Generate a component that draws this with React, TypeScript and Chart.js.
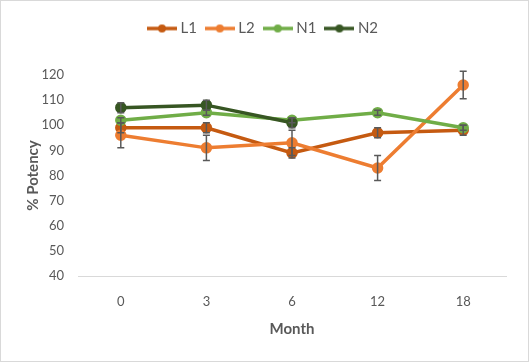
import React, { useEffect, useRef } from 'react';
import { Chart, registerables } from 'chart.js';

Chart.register(...registerables);

const months = ['0', '3', '6', '12', '18'];
const seriesNames = ['L1', 'L2', 'N1', 'N2'];
const seriesColors = ['#C55A11', '#ED7D31', '#70AD47', '#375623'];
const l1Values = [99, 99, 89, 97, 98];
const l2Values = [96, 91, 93, 83, 116];
const n1Values = [102, 105, 102, 105, 99];
const n2Values = [107, 108, 101, null, null];
const l1Errors = [2, 2, 2, 2, 2];
const l2Errors = [5, 5, 5, 5, 5.5];
const n1Errors = [1, 1, 1, 1, 1];
const n2Errors = [2, 2, 2, null, null];
const yMin = 40;
const yMax = 120;
const yStep = 10;
const xTitle = 'Month';
const yTitle = '% Potency';

const TEXT = '#595959';
const FONT = 'Lato, "Open Sans", sans-serif';
const LEGEND_EXTRA = 29;

const errorBarPlugin = {
  id: 'errorBars',
  afterDatasetsDraw(chart: any) {
    const ctx = chart.ctx;
    const yScale = chart.scales.y;
    ctx.save();
    ctx.strokeStyle = '#595959';
    ctx.lineWidth = 1.5;
    chart.data.datasets.forEach((ds: any, di: number) => {
      const errs = ds.errors;
      if (!errs) return;
      const meta = chart.getDatasetMeta(di);
      meta.data.forEach((pt: any, i: number) => {
        const v = ds.data[i];
        const e = errs[i];
        if (v == null || e == null) return;
        const x = pt.x;
        const yt = yScale.getPixelForValue(v + e);
        const yb = yScale.getPixelForValue(v - e);
        ctx.beginPath();
        ctx.moveTo(x, yt);
        ctx.lineTo(x, yb);
        ctx.moveTo(x - 3.5, yt);
        ctx.lineTo(x + 3.5, yt);
        ctx.moveTo(x - 3.5, yb);
        ctx.lineTo(x + 3.5, yb);
        ctx.stroke();
      });
    });
    ctx.restore();
  },
};

const framePlugin = {
  id: 'frame',
  beforeDraw(chart: any) {
    const { ctx, width, height } = chart;
    ctx.save();
    ctx.fillStyle = '#ffffff';
    ctx.fillRect(0, 0, width, height);
    ctx.strokeStyle = '#d9d9d9';
    ctx.lineWidth = 1;
    ctx.strokeRect(0.5, 0.5, width - 1, height - 1);
    ctx.restore();
  },
};

const legendSpacingPlugin = {
  id: 'legendSpacing',
  beforeLayout(chart: any) {
    const leg = chart.legend;
    if (!leg || leg._patched) return;
    const orig = leg.fit;
    leg.fit = function () {
      orig.call(this);
      this.height += LEGEND_EXTRA;
    };
    leg._patched = true;
  },
};

function makeLegendImage(color: string) {
  const c = document.createElement('canvas');
  c.width = 30;
  c.height = 10;
  const g = c.getContext('2d')!;
  g.strokeStyle = color;
  g.lineWidth = 3.5;
  g.beginPath();
  g.moveTo(0, 5);
  g.lineTo(30, 5);
  g.stroke();
  g.fillStyle = color;
  g.beginPath();
  g.arc(15, 5, 4, 0, Math.PI * 2);
  g.fill();
  return c;
}

export default function App() {
  const ref = useRef<HTMLCanvasElement | null>(null);

  useEffect(() => {
    if (!ref.current) return;
    const values = [l1Values, l2Values, n1Values, n2Values];
    const errors = [l1Errors, l2Errors, n1Errors, n2Errors];
    const images = seriesColors.map(makeLegendImage);
    const datasets = seriesNames.map((name, i) => ({
      label: name,
      data: values[i],
      errors: errors[i],
      borderColor: seriesColors[i],
      backgroundColor: seriesColors[i],
      pointBackgroundColor: seriesColors[i],
      pointBorderColor: seriesColors[i],
      borderWidth: 3.5,
      pointRadius: 4,
      pointHoverRadius: 4,
      tension: 0,
      order: seriesNames.length - i,
    }));

    const chart = new Chart(ref.current, {
      type: 'line',
      data: { labels: months, datasets: datasets as any },
      plugins: [framePlugin, legendSpacingPlugin, errorBarPlugin],
      options: {
        responsive: false,
        animation: false,
        layout: { padding: { top: 9, right: 23, bottom: 0, left: 23 } },
        plugins: {
          tooltip: { enabled: false },
          legend: {
            position: 'top',
            labels: {
              color: TEXT,
              font: { family: FONT, size: 15 },
              usePointStyle: true,
              pointStyleWidth: 22,
              padding: 12,
              sort: (a: any, b: any) => a.datasetIndex - b.datasetIndex,
              generateLabels: (ch: any) => {
                const items = Chart.defaults.plugins.legend.labels.generateLabels(ch);
                return items.map((it: any) => ({
                  ...it,
                  pointStyle: images[it.datasetIndex],
                  fontColor: TEXT,
                }));
              },
            },
          },
        },
        scales: {
          x: {
            type: 'category',
            offset: true,
            grid: { display: false, drawTicks: false },
            border: { display: true, color: '#d9d9d9', width: 1 },
            ticks: { color: TEXT, font: { family: FONT, size: 13 }, padding: 18 },
            title: {
              display: true,
              text: xTitle,
              color: TEXT,
              font: { family: FONT, size: 15, weight: 'bold' },
              padding: { top: 0, bottom: 24 },
            },
            afterFit: (s: any) => {
              s.height = 86;
            },
          },
          y: {
            min: yMin,
            max: yMax,
            grid: { display: false, drawTicks: false },
            border: { display: false },
            ticks: {
              stepSize: yStep,
              color: TEXT,
              font: { family: FONT, size: 13 },
              padding: 14,
            },
            title: {
              display: true,
              text: yTitle,
              color: TEXT,
              font: { family: FONT, size: 15, weight: 'bold' },
              padding: { top: 1, bottom: 0 },
            },
            afterFit: (s: any) => {
              s.width = 55;
            },
          },
        },
      } as any,
    });
    return () => chart.destroy();
  }, []);

  return (
    <div style={{ position: 'fixed', left: 0, top: 0, width: 529, height: 362, background: '#fff' }}>
      <canvas ref={ref} width={529} height={362} />
    </div>
  );
}
